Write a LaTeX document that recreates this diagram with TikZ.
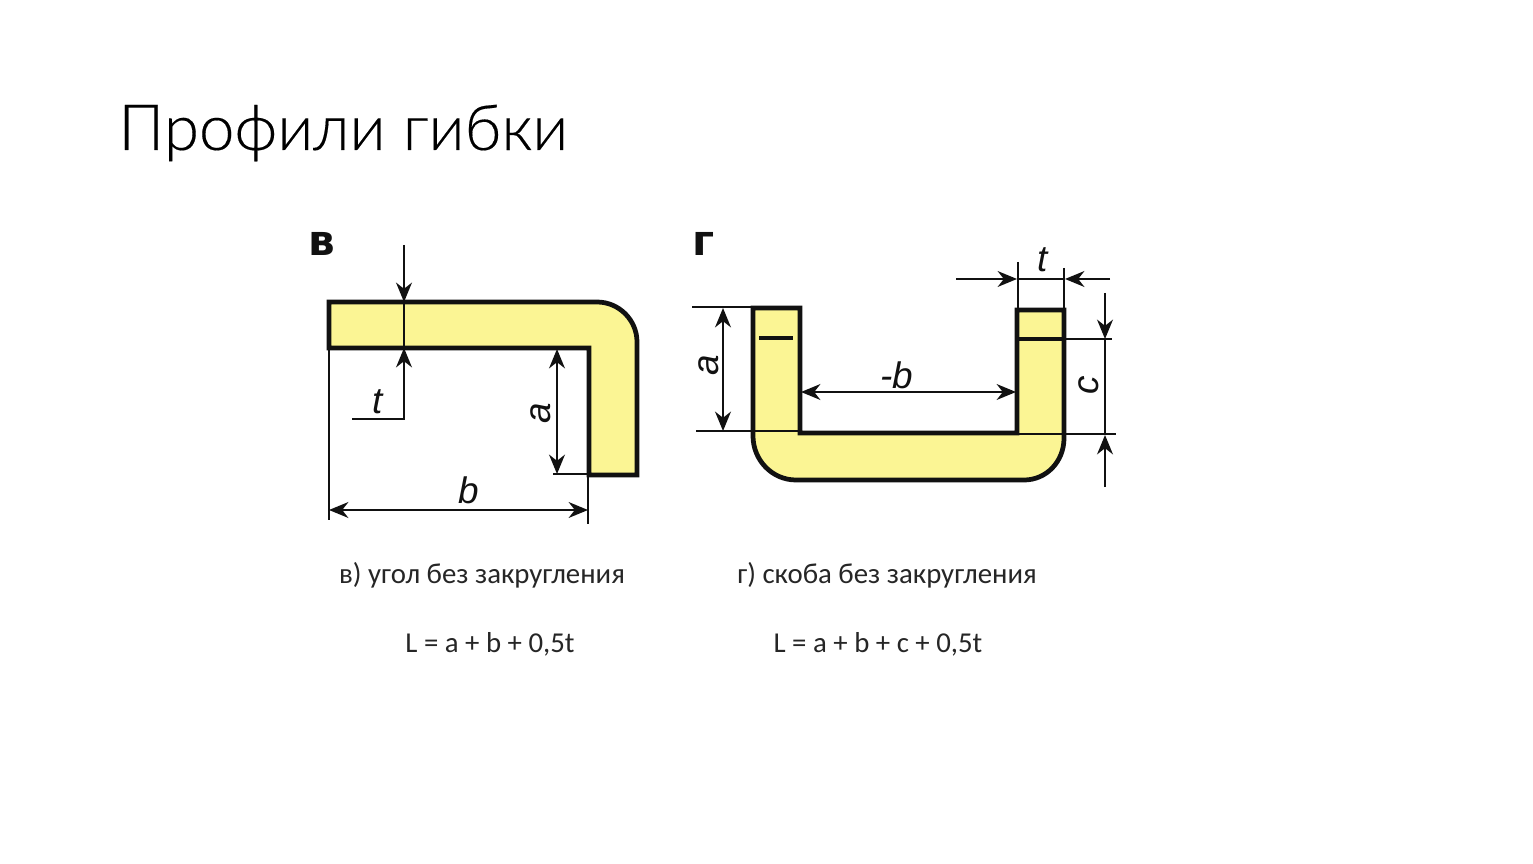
\documentclass[tikz,border=0pt]{standalone}
\usepackage{fontspec}
\setmainfont{Carlito}
\newfontfamily\titlefont[FakeBold=0.25]{Lato Light}
\newfontfamily\boldlabel{DejaVu Sans Bold}
\newfontfamily\dimfont{Liberation Sans}
\usetikzlibrary{arrows.meta}
\definecolor{blank}{HTML}{FBF594}
\definecolor{ink}{HTML}{111111}
\tikzset{%
    >={Stealth[length=11pt,width=9pt,inset=3.5pt]},
    outline/.style={draw=ink,line width=2.7pt,line join=miter},
    dimline/.style={draw=ink,line width=1.3pt},
    dimtext/.style={font=\dimfont\itshape\fontsize{21}{21}\selectfont,text=ink,inner sep=0pt},
    partmark/.style={font=\boldlabel\fontsize{24}{24}\selectfont,text=ink,inner sep=0pt},
    caption/.style={font=\fontsize{16.4}{18}\selectfont,text=black!85,inner sep=0pt}
}

\begin{document}
\begin{tikzpicture}[x=0.02cm,y=-0.02cm]
      \fill[white] (0,0) rectangle (1533,864);
      \useasboundingbox (0,0) rectangle (1533,864);

      \node[anchor=base west,inner sep=0pt,font=\titlefont\fontsize{36.2}{42}\selectfont,text=black] (title) at (118,150) {Профили гибки};

      % angle
      \node[partmark] (markV) at (322,244) {в};
      \filldraw[outline,fill=blank] (329,302) -- (597,302) .. controls (619,302) and (637,320) .. (637,342) -- (637,475) -- (589,475)
        -- (589,348) -- (329,348) -- cycle;
      \coordinate (tTop) at (404,245);
      \coordinate (tFoot) at (404,419);
      \coordinate (tTail) at (352,419);
      \draw[dimline,->] (tTop) -- (404,302);
      \draw[dimline] (404,302) -- (404,348);
      \draw[dimline,->] (tTail) -- (tFoot) -- (404,348);
      \draw[dimline,<->] (557,349) -- (557,474);
      \draw[dimline] (553,474) -- (589,474);
      \draw[dimline] (329,348) -- (329,520);
      \draw[dimline] (588,475) -- (588,524);
      \draw[dimline,<->] (329,510) -- (588,510);
      \node[dimtext] (tV) at (378,402) {t};
      \node[dimtext,rotate=90] (aV) at (541,413) {a};
      \node[dimtext] (bV) at (469,490) {b};

      % bracket
      \node[partmark] (markG) at (704,244) {г};
      \filldraw[outline,fill=blank] (753,308) -- (800,308) -- (800,433) -- (1017,433) -- (1017,310) -- (1064,310)
        -- (1064,438) .. controls (1064,462) and (1046,480) .. (1024,480) -- (796,480) .. controls (772,480) and (753,460) .. (753,436) -- cycle;
      \draw[line width=2.7pt,draw=ink] (759,338) -- (793,338);
      \draw[line width=2.4pt,draw=ink] (1017,339) -- (1064,339);
      \draw[dimline] (692,307) -- (753,307);
      \draw[dimline] (696,431) -- (800,431);
      \draw[dimline,<->] (723,308) -- (723,431);
      \draw[dimline,<->] (801,392) -- (1016,392);
      \draw[dimline] (1018,262) -- (1018,310);
      \draw[dimline] (1064,268) -- (1064,310);
      \draw[dimline,->] (956,279) -- (1017,279);
      \draw[dimline] (1017,279) -- (1064,279);
      \draw[dimline,->] (1110,279) -- (1065,279);
      \draw[dimline] (1064,339) -- (1112,339);
      \draw[dimline] (1017,434) -- (1116,434);
      \draw[dimline,->] (1105,293) -- (1105,339);
      \draw[dimline] (1105,339) -- (1105,434);
      \draw[dimline,->] (1105,487) -- (1105,435);
      \node[dimtext,rotate=90] (aG) at (709,365) {a};
      \node[dimtext] (bG) at (897,375) {-b};
      \node[dimtext] (tG) at (1043,260) {t};
      \node[dimtext,rotate=90] (cG) at (1089,385) {c};

      \node[caption] (capV) at (482,575) {в) угол без закругления};
      \node[caption] (capG) at (887,575) {г) скоба без закругления};
      \node[caption] (lenV) at (490,644) {L = a + b + 0,5t};
      \node[caption] (lenG) at (878,644) {L = a + b + c + 0,5t};
\end{tikzpicture}
\end{document}
